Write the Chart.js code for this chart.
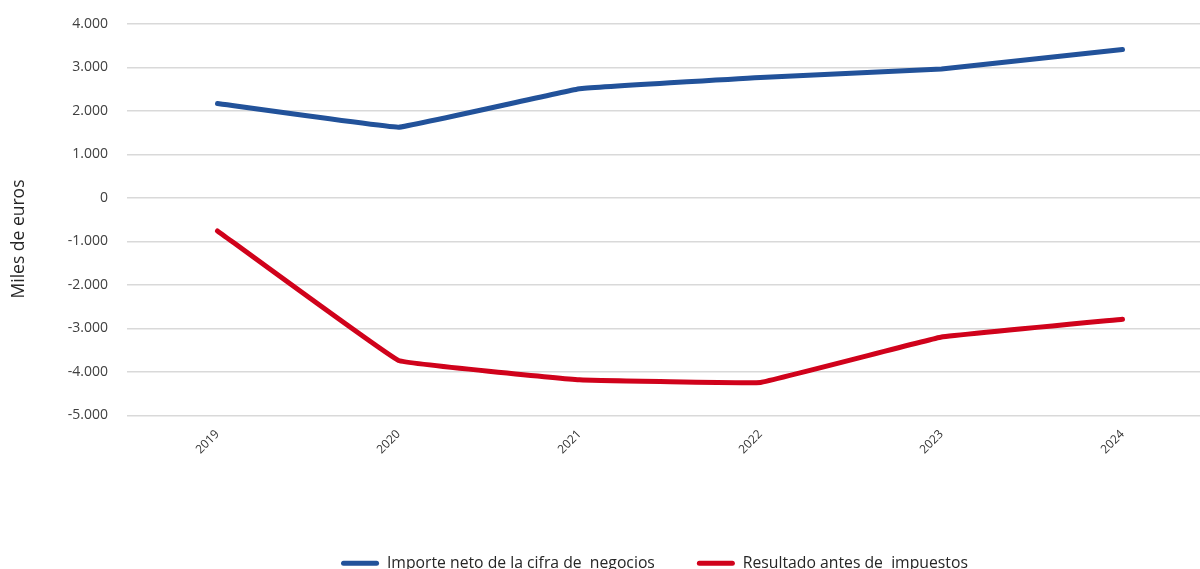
<!DOCTYPE html>
<html>
<head>
<meta charset="utf-8">
<script src="https://cdn.jsdelivr.net/npm/chart.js@4/dist/chart.umd.min.js"></script>
<style>
  html, body { margin: 0; padding: 0; background: #fff; overflow: hidden; }
  #wrap { width: 1213px; height: 569px; }
</style>
</head>
<body>
<div id="wrap"><canvas id="chart"></canvas></div>
<script>
const years = ['2019', '2020', '2021', '2022', '2023', '2024'];
const importeNeto = [2170, 1625, 2510, 2770, 2965, 3415];
const resultadoAntes = [-760, -3740, -4185, -4245, -3200, -2790];
const yTicks = [4000, 3000, 2000, 1000, 0, -1000, -2000, -3000, -4000, -5000];
const yTitle = 'Miles de euros';

const BLUE = '#22529a';
const RED = '#d0021b';
const FONT = '"Open Sans", "Noto Sans", sans-serif';

const fmt = (v) => {
    const s = Math.abs(v).toString().replace(/\B(?=(\d{3})+(?!\d))/g, '.');
    return (v < 0 ? '-' : '') + s;
};

// nudge the legend where the original has it and draw the axis title a bit lower
const tweaks = {
    id: 'tweaks',
    afterLayout(chart) {
        const lg = chart.legend;
        lg.left += 46;
        lg.right += 46;
        lg.top += 12;
        lg.bottom += 12;
    },
    afterDraw(chart) {
        const c = chart.ctx;
        c.save();
        c.translate(19, 239);
        c.rotate(-Math.PI / 2);
        c.fillStyle = '#262626';
        c.font = '17.5px ' + FONT;
        c.textAlign = 'center';
        c.textBaseline = 'middle';
        c.fillText(yTitle, 0, 0);
        c.restore();
    },
};

const ctx = document.getElementById('chart').getContext('2d');
new Chart(ctx, {
    type: 'line',
    data: {
        labels: years,
        datasets: [
            {
                label: 'Importe neto de la cifra de  negocios',
                data: importeNeto,
                borderColor: BLUE,
                backgroundColor: BLUE,
                borderWidth: 5,
                pointRadius: 0,
                tension: 0.05,
                borderCapStyle: 'round',
            },
            {
                label: 'Resultado antes de  impuestos',
                data: resultadoAntes,
                borderColor: RED,
                backgroundColor: RED,
                borderWidth: 5,
                pointRadius: 0,
                tension: 0.05,
                borderCapStyle: 'round',
            },
        ],
    },
    options: {
        responsive: true,
        maintainAspectRatio: false,
        animation: false,
        layout: { padding: { left: 4, top: 24, right: 0, bottom: 0 } },
        plugins: {
            tooltip: { enabled: false },
            legend: {
                position: 'bottom',
                labels: {
                    color: '#262626',
                    font: { family: FONT, size: 15.75 },
                    boxWidth: 38,
                    boxHeight: 5,
                    padding: 42,
                    useBorderRadius: true,
                    borderRadius: 2.5,
                    generateLabels: (chart) =>
                        Chart.defaults.plugins.legend.labels.generateLabels(chart).map((l) => ({ ...l, lineWidth: 0 })),
                },
            },
        },
        scales: {
            x: {
                offset: true,
                grid: { display: false, drawTicks: false },
                border: { display: false },
                ticks: {
                    color: '#333',
                    font: { family: FONT, size: 12 },
                    maxRotation: 45,
                    minRotation: 45,
                    padding: 12,
                },
                afterFit: (scale) => { scale.height = 86; },
            },
            y: {
                min: -5000,
                max: 4000,
                afterBuildTicks: (scale) => { scale.ticks = yTicks.map((v) => ({ value: v })); },
                grid: { color: '#d9d9d9', lineWidth: 1.5, drawTicks: false },
                border: { display: false },
                ticks: {
                    color: '#404040',
                    font: { family: FONT, size: 14 },
                    padding: 19,
                    callback: (v) => fmt(v),
                },
                afterFit: (scale) => {
                    scale.width = 123;
                    scale.paddingTop = 0;
                    scale.paddingBottom = 0;
                },
            },
        },
    },
    plugins: [tweaks],
});
</script>
</body>
</html>
